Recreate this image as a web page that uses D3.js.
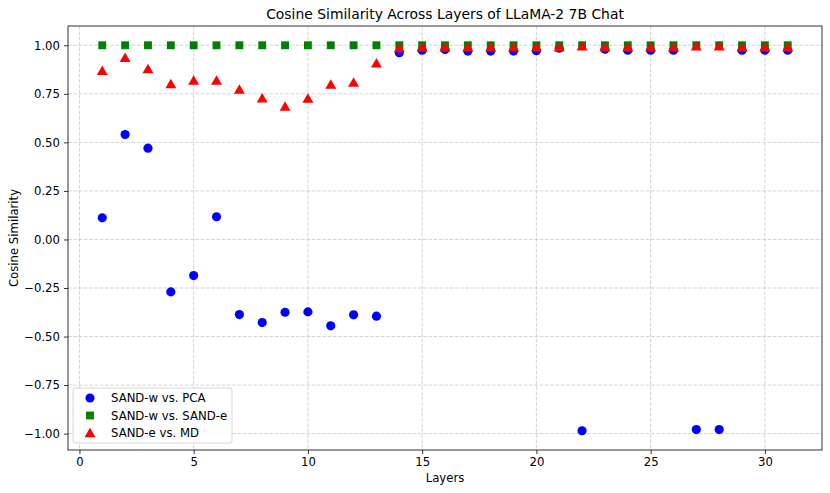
<!DOCTYPE html>
<html>
<head>
<meta charset="utf-8">
<script src="https://cdn.jsdelivr.net/npm/d3@7"></script>
<style>
  body { margin: 0; background: #fff; }
  text { font-family: "DejaVu Sans", sans-serif; fill: #000; }
</style>
</head>
<body>
<div id="chart-area"></div>
<script>
// DATA-----------------------------------------------------------------------
const layers = d3.range(1, 32)
const pcaVals = [0.112, 0.54, 0.47, -0.27, -0.186, 0.117, -0.387, -0.428, -0.375, -0.373,
  -0.445, -0.388, -0.395, 0.962, 0.975, 0.978, 0.97, 0.97, 0.97, 0.972,
  0.985, -0.985, 0.98, 0.975, 0.975, 0.975, -0.979, -0.979, 0.975, 0.975, 0.975]
const sandVals = [1, 1, 1, 1, 1, 1, 1, 1, 1, 1, 1, 1, 1, 1, 1, 1, 1, 1, 1, 1, 1, 1, 1, 1, 1, 1, 1, 1, 1, 1, 1]
const mdVals = [0.868, 0.935, 0.878, 0.80, 0.818, 0.818, 0.772, 0.727, 0.684, 0.725,
  0.797, 0.808, 0.907, 0.986, 0.99, 0.99, 0.99, 0.99, 0.99, 0.99,
  0.99, 0.995, 0.99, 0.99, 0.99, 0.99, 0.995, 0.995, 0.99, 0.99, 0.99]
const seriesNames = ['SAND-w vs. PCA', 'SAND-w vs. SAND-e', 'SAND-e vs. MD']
const xTicks = [0, 5, 10, 15, 20, 25, 30]
const yTicks = [-1.0, -0.75, -0.5, -0.25, 0, 0.25, 0.5, 0.75, 1.0]

//MARGIN CONVENTION-----------------------------------------------------------
const MARGIN = { LEFT: 68, RIGHT: 8, TOP: 26, BOTTOM: 43 }
const WIDTH = 830 - MARGIN.LEFT - MARGIN.RIGHT
const HEIGHT = 493 - MARGIN.TOP - MARGIN.BOTTOM
const FONT = 11.7
const svg = d3.select("#chart-area").append("svg")
  .attr("width", 830)
  .attr("height", 493)
const g = svg.append("g")
  .attr("transform", `translate(${MARGIN.LEFT}, ${MARGIN.TOP})`)

//SCALES---------------------------------------------------------------------
const xScale = d3.scaleLinear().domain([-0.5, 32.5]).range([0, WIDTH])
const yScale = d3.scaleLinear().domain([-1.0843, 1.0993]).range([HEIGHT, 0])

// grid
g.append('g').selectAll('line').data(xTicks).enter().append('line')
  .attr('x1', d => xScale(d)).attr('x2', d => xScale(d))
  .attr('y1', 0).attr('y2', HEIGHT)
  .attr('stroke', '#b0b0b0').attr('stroke-opacity', 0.7)
  .attr('stroke-dasharray', '3.7,1.6').attr('stroke-width', 0.8)
g.append('g').selectAll('line').data(yTicks).enter().append('line')
  .attr('y1', d => yScale(d)).attr('y2', d => yScale(d))
  .attr('x1', 0).attr('x2', WIDTH)
  .attr('stroke', '#b0b0b0').attr('stroke-opacity', 0.7)
  .attr('stroke-dasharray', '3.7,1.6').attr('stroke-width', 0.8)

//AXES
const xAxis = d3.axisBottom(xScale).tickValues(xTicks).tickSize(4).tickPadding(4).tickFormat(d3.format('d'))
const yAxis = d3.axisLeft(yScale).tickValues(yTicks).tickSize(4).tickPadding(4)
  .tickFormat(d => d3.format('.2f')(d).replace('-', '\u2212'))
const gx = g.append('g').attr('transform', `translate(0, ${HEIGHT})`).call(xAxis)
const gy = g.append('g').call(yAxis)
for (const ax of [gx, gy]) {
  ax.select('.domain').remove()
  ax.selectAll('text').attr('font-size', FONT).attr('font-family', '"DejaVu Sans", sans-serif').attr('fill', '#000')
  ax.selectAll('line').attr('stroke', '#000').attr('stroke-width', 0.8)
}

//MARKS----------------------------------------------------------------------
const circleSym = d3.symbol().type(d3.symbolCircle).size(66)
const squareSym = d3.symbol().type(d3.symbolSquare).size(62)
const triSym = d3.symbol().type(d3.symbolTriangle).size(52)

g.selectAll('.pca').data(layers).enter().append('path')
  .attr('class', 'pca')
  .attr('d', circleSym)
  .attr('transform', (d, i) => `translate(${xScale(d)}, ${yScale(pcaVals[i])})`)
  .attr('fill', 'blue')

g.selectAll('.sand').data(layers).enter().append('path')
  .attr('class', 'sand')
  .attr('d', squareSym)
  .attr('transform', (d, i) => `translate(${xScale(d)}, ${yScale(sandVals[i])})`)
  .attr('fill', 'green')

g.selectAll('.md').data(layers).enter().append('path')
  .attr('class', 'md')
  .attr('d', triSym)
  .attr('transform', (d, i) => `translate(${xScale(d)}, ${yScale(mdVals[i]) + 1})`)
  .attr('fill', 'red')

// frame
g.append('rect').attr('width', WIDTH).attr('height', HEIGHT)
  .attr('fill', 'none').attr('stroke', '#000').attr('stroke-width', 0.8)

//LABELS---------------------------------------------------------------------
svg.append('text').attr('x', MARGIN.LEFT + WIDTH / 2).attr('y', 19)
  .attr('text-anchor', 'middle').attr('font-size', 13.9)
  .text('Cosine Similarity Across Layers of LLaMA-2 7B Chat')
svg.append('text').attr('x', MARGIN.LEFT + WIDTH / 2).attr('y', 482)
  .attr('text-anchor', 'middle').attr('font-size', FONT).text('Layers')
svg.append('text').attr('transform', `translate(18, ${MARGIN.TOP + HEIGHT / 2}) rotate(-90)`)
  .attr('text-anchor', 'middle').attr('font-size', FONT).text('Cosine Similarity')

//LEGEND---------------------------------------------------------------------
const legend = g.append('g').attr('transform', `translate(5, ${HEIGHT - 62})`)
legend.append('rect').attr('width', 159).attr('height', 55).attr('rx', 2)
  .attr('fill', '#fff').attr('fill-opacity', 0.8).attr('stroke', '#ccc').attr('stroke-width', 0.8)
const syms = [circleSym, squareSym, triSym]
const cols = ['blue', 'green', 'red']
seriesNames.forEach((name, i) => {
  const row = legend.append('g').attr('transform', `translate(0, ${10 + i * 17.5})`)
  row.append('path').attr('d', syms[i]()).attr('fill', cols[i])
    .attr('transform', `translate(17, ${i === 2 ? 1 : 0})`)
  row.append('text').attr('x', 38).attr('y', 4).attr('font-size', FONT).text(name)
})
</script>
</body>
</html>
